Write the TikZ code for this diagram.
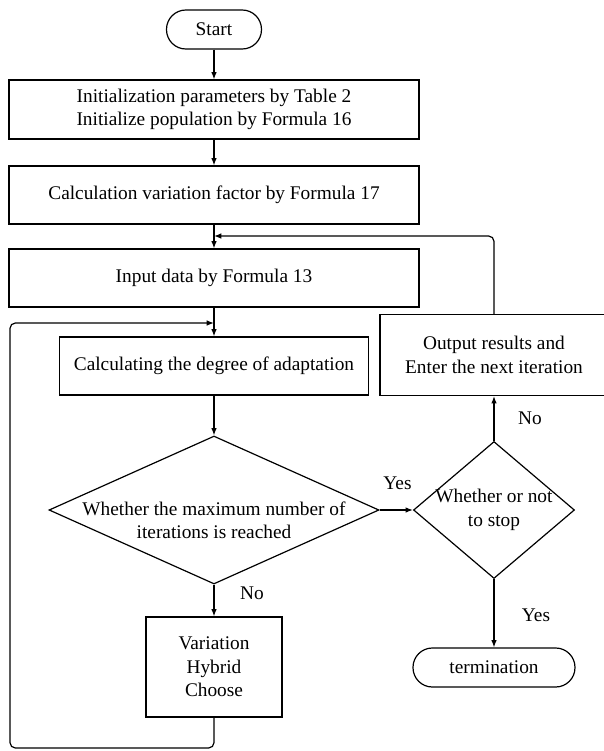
\documentclass[tikz,border=0pt]{standalone}
\usepackage{fontspec}
\setmainfont{Liberation Serif}
\usetikzlibrary{shapes.geometric,arrows.meta}

\begin{document}
\begin{tikzpicture}[x=0.75pt,y=-0.75pt,
  every node/.style={font=\fontsize{14.5}{17.6}\selectfont, align=center},
  box/.style={draw, line width=0.9pt, inner sep=0pt},
  term/.style={box, rounded corners=14.5pt},
  cond/.style={draw, line width=0.9pt, diamond, inner sep=-4pt},
  arr/.style={line width=0.9pt, -{Latex[length=5.5pt,width=4.2pt]}},
  lbl/.style={inner sep=0pt}]
\def\u{0.75pt}
\def\cx{214}
\def\rx{494}
\useasboundingbox (0,0) rectangle (604,751);
\node[term, minimum width={95*\u}, minimum height={39*\u}] (start) at (\cx,29.5) {Start};
\node[box, minimum width={410*\u}, minimum height={59*\u}] (init) at (\cx,109.5) {Initialization parameters by Table 2\\Initialize population by Formula 16};
\node[box, minimum width={410*\u}, minimum height={58*\u}] (factor) at (\cx,195) {Calculation variation factor by Formula 17};
\node[box, minimum width={410*\u}, minimum height={58*\u}] (input) at (\cx,278) {Input data by Formula 13};
\node[box, minimum width={309*\u}, minimum height={58*\u}] (fit) at (\cx,366) {Calculating the degree of adaptation};
\node[cond, aspect=2.23, inner ysep=-12pt, minimum width={330*\u}, minimum height={148*\u}] (maxit) at (\cx,510) {\rule{0pt}{26pt}Whether the maximum number of\\iterations is reached};
\node[box, minimum width={136*\u}, minimum height={100*\u}] (ops) at (\cx,667) {Variation\\Hybrid\\Choose};
\node[cond, aspect=1.18, minimum width={161*\u}, minimum height={137*\u}] (stop) at (\rx,510) {Whether or not\\to stop};
\node[box, minimum width={228*\u}, minimum height={81*\u}] (out) at (\rx,355) {Output results and\\Enter the next iteration};
\node[term, minimum width={162*\u}, minimum height={39*\u}] (end) at (\rx,667.5) {termination};
\coordinate (lb) at (10,748);
\coordinate (j1) at (\cx,323);
\coordinate (j2) at (\cx,236);
\draw[arr] (start) -- (init);
\draw[arr] (init) -- (factor);
\draw[arr] (factor) -- (input);
\draw[arr] (input) -- (fit);
\draw[arr] (fit) -- (maxit);
\draw[arr] (maxit) -- (ops);
\draw[arr] (maxit) -- (stop);
\draw[arr] (stop) -- (out);
\draw[arr] (stop) -- (end);
\draw[arr, rounded corners=4pt] (ops.south) |- (lb) |- (j1);
\draw[arr, rounded corners=4pt] (out.north) |- (j2);
\node[lbl] (yesA) at (397.5,483) {Yes};
\node[lbl] (noA) at (252,593) {No};
\node[lbl] (noB) at (530,418) {No};
\node[lbl] (yesB) at (536,615) {Yes};
\end{tikzpicture}
\end{document}
